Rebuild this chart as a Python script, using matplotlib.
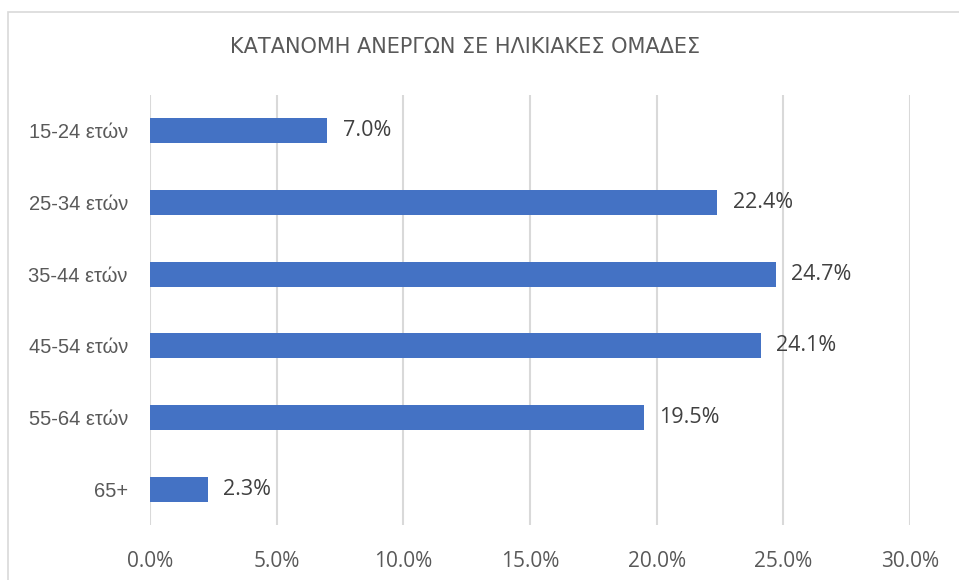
import matplotlib
matplotlib.use("Agg")
import matplotlib.pyplot as plt
from matplotlib.patches import Rectangle

categories = ["15-24 ετών", "25-34 ετών", "35-44 ετών", "45-54 ετών", "55-64 ετών", "65+"]
values = [7.0, 22.4, 24.7, 24.1, 19.5, 2.3]
xticks = [0, 5, 10, 15, 20, 25, 30]
xtick_labels = ["0.0%", "5.0%", "10.0%", "15.0%", "20.0%", "25.0%", "30.0%"]
title = "ΚΑΤΑΝΟΜΗ ΑΝΕΡΓΩΝ ΣΕ ΗΛΙΚΙΑΚΕΣ ΟΜΑΔΕΣ"

plt.rcParams['font.family'] = ['Open Sans', 'DejaVu Sans']

W, H = 959, 580
fig = plt.figure(figsize=(W/100, H/100), dpi=100)
fig.patch.set_facecolor("white")

# chart border
fig.patches.append(Rectangle((8/W, -0.01), (W-6)/W, 1-12/H + 0.01, transform=fig.transFigure,
                             fill=False, edgecolor="#D9D9D9", linewidth=1.2))

ax = fig.add_axes([150/W, 1-525/H, 760/W, 430/H])
ypos = list(range(len(categories)))
ax.barh(ypos, values, height=0.35, color="#4472C4", zorder=3)
ax.set_ylim(len(categories)-0.5, -0.5)
ax.set_xlim(0, 30)
ax.set_xticks(xticks)
ax.set_xticklabels(xtick_labels, fontsize=15, color="#595959")
ax.set_yticks(ypos)
ax.set_yticklabels(categories, fontsize=14.5, color="#595959", family=["Liberation Sans", "DejaVu Sans"])
ax.tick_params(axis="both", length=0)
ax.tick_params(axis="x", pad=19)
ax.tick_params(axis="y", pad=16)
for s in ax.spines.values():
    s.set_visible(False)
ax.grid(axis="x", color="#D9D9D9", linewidth=1.5, zorder=0)
ax.set_axisbelow(True)

for y, v in zip(ypos, values):
    ax.text(v + 0.6, y, f"{v:.1f}%", va="center", ha="left", fontsize=15.5, color="#404040")

fig.text(465/W, 1-47/H, title, ha="center", va="center", fontsize=15, color="#595959",
         family=["DejaVu Sans"])

fig.savefig("out.png", dpi=100)
